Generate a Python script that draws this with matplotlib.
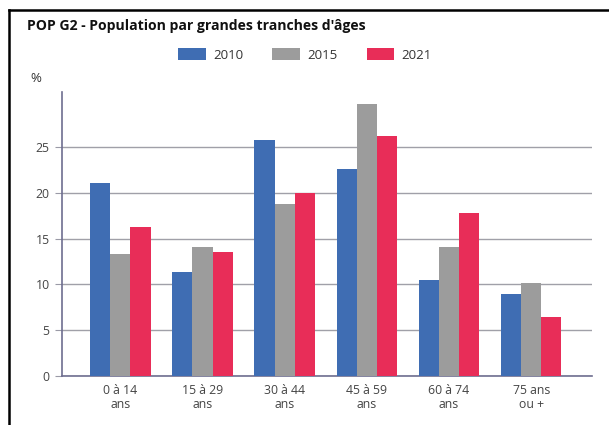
import matplotlib
matplotlib.use("Agg")
import matplotlib.pyplot as plt
import numpy as np
from matplotlib.lines import Line2D
from matplotlib.patches import Patch

categories = ["0 à 14\nans", "15 à 29\nans", "30 à 44\nans", "45 à 59\nans", "60 à 74\nans", "75 ans\nou +"]
series_names = ["2010", "2015", "2021"]
v2010 = [21.1, 11.3, 25.8, 22.6, 10.5, 9.0]
v2015 = [13.3, 14.1, 18.8, 29.7, 14.1, 10.2]
v2021 = [16.3, 13.5, 20.0, 26.2, 17.8, 6.4]
colors = ["#3f6db3", "#9c9c9c", "#e82d58"]
yticks = [0, 5, 10, 15, 20, 25]

plt.rcParams['font.family'] = ['Open Sans', 'DejaVu Sans']

fig = plt.figure(figsize=(6.09, 4.25), dpi=100)
ax = fig.add_axes([62/609, 1-376/425, (592-62)/609, (376-92)/425])

x = np.arange(len(categories))
w = 0.245
for i, (vals, c, n) in enumerate(zip([v2010, v2015, v2021], colors, series_names)):
    ax.bar(x + (i-1)*w, vals, width=w, color=c, label=n, zorder=3)

ax.set_xlim(-0.71, 5.74)
ax.set_ylim(0, 31)
ax.set_yticks(yticks)
ax.set_xticks(x)
ax.set_xticklabels(categories, fontsize=8.8, color="#444444", linespacing=1.05)
ax.tick_params(axis='x', length=0, pad=6)
ax.tick_params(axis='y', length=5, color="#9a9aa6", labelsize=8.8, labelcolor="#444444", pad=4)
ax.yaxis.grid(True, color="#a0a0a8", linewidth=1, zorder=0)
ax.set_axisbelow(True)
for s in ["top", "right"]:
    ax.spines[s].set_visible(False)
for s in ["left", "bottom"]:
    ax.spines[s].set_color("#6e6e90")
    ax.spines[s].set_linewidth(1.2)

# title and % label
fig.text(27/609, 1-26/425, "POP G2 - Population par grandes tranches d'âges",
         fontsize=10.1, fontweight="bold", color="#111111", va="center", ha="left")
fig.text(30/609, 1-79/425, "%", fontsize=9.5, color="#333333", va="center", ha="left")

# legend
handles = [Patch(facecolor=c, edgecolor="none") for c in colors]
fig.legend(handles, series_names, loc="center", bbox_to_anchor=(305/609, 1-55/425),
           ncol=3, frameon=False, fontsize=9.5, handlelength=2.1, handleheight=0.95,
           columnspacing=2.2, handletextpad=0.55, labelcolor="#333333")

# border frame
fig.add_artist(Line2D([9/609, 9/609], [0, 1-10/425], transform=fig.transFigure, color="black", lw=1.8))
fig.add_artist(Line2D([9/609, 1], [1-10/425, 1-10/425], transform=fig.transFigure, color="black", lw=1.8))

fig.savefig("out.png", dpi=100)
